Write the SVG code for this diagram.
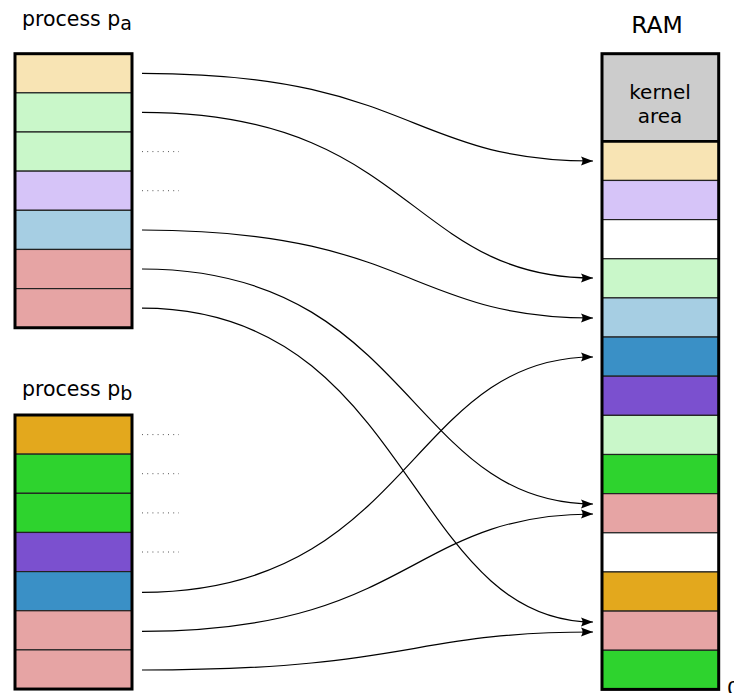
<svg xmlns="http://www.w3.org/2000/svg" width="734" height="693" viewBox="0 0 734 693">
<defs>
<marker id="arr" markerUnits="userSpaceOnUse" markerWidth="14" markerHeight="12" refX="12" refY="6" orient="auto" overflow="visible">
<path d="M12,6 L0,1.6 Q3,6 0,10.4 Z" fill="#000"/>
</marker>
</defs>
<style>
text{font-family:"DejaVu Sans","Liberation Sans",sans-serif;fill:#000}
.lbl{font-size:20.5px}
.sub{font-size:19px}
.cell{stroke:#222;stroke-width:1.2}
.frame{fill:none;stroke:#000;stroke-width:3}
.wheat{fill:#f8e4b4}.lg{fill:#c9f7c9}.lav{fill:#d6c4f8}.lb{fill:#a6cee3}.pink{fill:#e6a4a4}
.org{fill:#e3a81d}.grn{fill:#2ed32e}.pur{fill:#7b50cf}.blu{fill:#3a90c6}.wht{fill:#fff}.gry{fill:#cccccc}
.dots{stroke:#555;stroke-width:1;stroke-dasharray:1 4.2;fill:none}
.conn{fill:none;stroke:#000;stroke-width:1.2;marker-end:url(#arr)}
</style>
<rect width="734" height="693" fill="#fff"/>

<g id="process-a">
<text class="lbl" x="22" y="26">process p<tspan class="sub" dy="3.5">a</tspan></text>
<rect class="cell wheat" x="15" y="53.7" width="117" height="39.15"/>
<rect class="cell lg" x="15" y="92.85" width="117" height="39.15"/>
<rect class="cell lg" x="15" y="132" width="117" height="39.15"/>
<rect class="cell lav" x="15" y="171.15" width="117" height="39.15"/>
<rect class="cell lb" x="15" y="210.3" width="117" height="39.15"/>
<rect class="cell pink" x="15" y="249.45" width="117" height="39.15"/>
<rect class="cell pink" x="15" y="288.6" width="117" height="39.15"/>
<rect class="frame" x="15" y="53.7" width="117" height="274.05"/>
<path class="dots" d="M142,151.6 H179 M142,190.7 H179"/>
</g>

<g id="process-b">
<text class="lbl" x="22" y="396">process p<tspan class="sub" dy="4">b</tspan></text>
<rect class="cell org" x="15" y="415" width="117" height="39.15"/>
<rect class="cell grn" x="15" y="454.15" width="117" height="39.15"/>
<rect class="cell grn" x="15" y="493.3" width="117" height="39.15"/>
<rect class="cell pur" x="15" y="532.45" width="117" height="39.15"/>
<rect class="cell blu" x="15" y="571.6" width="117" height="39.15"/>
<rect class="cell pink" x="15" y="610.75" width="117" height="39.15"/>
<rect class="cell pink" x="15" y="649.9" width="117" height="39.15"/>
<rect class="frame" x="15" y="415" width="117" height="274.05"/>
<path class="dots" d="M142,434.6 H179 M142,473.7 H179 M142,512.9 H179 M142,552 H179"/>
</g>

<g id="ram">
<text x="657" y="33" font-size="23.5" text-anchor="middle">RAM</text>
<rect class="gry" x="602" y="53.7" width="116.7" height="87.6"/>
<rect class="cell wheat" x="602" y="141.3" width="116.7" height="39.15"/>
<rect class="cell lav" x="602" y="180.45" width="116.7" height="39.15"/>
<rect class="cell wht" x="602" y="219.6" width="116.7" height="39.15"/>
<rect class="cell lg" x="602" y="258.75" width="116.7" height="39.15"/>
<rect class="cell lb" x="602" y="297.9" width="116.7" height="39.15"/>
<rect class="cell blu" x="602" y="337.05" width="116.7" height="39.15"/>
<rect class="cell pur" x="602" y="376.2" width="116.7" height="39.15"/>
<rect class="cell lg" x="602" y="415.35" width="116.7" height="39.15"/>
<rect class="cell grn" x="602" y="454.5" width="116.7" height="39.15"/>
<rect class="cell pink" x="602" y="493.65" width="116.7" height="39.15"/>
<rect class="cell wht" x="602" y="532.8" width="116.7" height="39.15"/>
<rect class="cell org" x="602" y="571.95" width="116.7" height="39.15"/>
<rect class="cell pink" x="602" y="611.1" width="116.7" height="39.15"/>
<rect class="cell grn" x="602" y="650.25" width="116.7" height="39.15"/>
<line x1="602" y1="141.3" x2="718.7" y2="141.3" stroke="#000" stroke-width="2.7"/>
<rect class="frame" x="602" y="53.7" width="116.7" height="635.7"/>
<text x="660" y="99" font-size="20" text-anchor="middle">kernel</text>
<text x="660" y="123" font-size="20" text-anchor="middle">area</text>
<text x="727" y="695" font-size="20">0</text>
</g>

<g id="connectors">
<path class="conn" d="M142,73.3 C412,73.3 408,161 593,161"/>
<path class="conn" d="M142,112.4 C412,112.4 408,278 593,278"/>
<path class="conn" d="M142,230 C412,230 408,318 593,318"/>
<path class="conn" d="M142,269 C412,269 408,504 593,504"/>
<path class="conn" d="M142,308.2 C412,308.2 408,622 593,622"/>
<path class="conn" d="M142,592.3 C412,592.3 408,357 593,357"/>
<path class="conn" d="M142,631.3 C412,631.3 408,514 593,514"/>
<path class="conn" d="M142,670 C412,670 408,632 593,632"/>
</g>
</svg>
